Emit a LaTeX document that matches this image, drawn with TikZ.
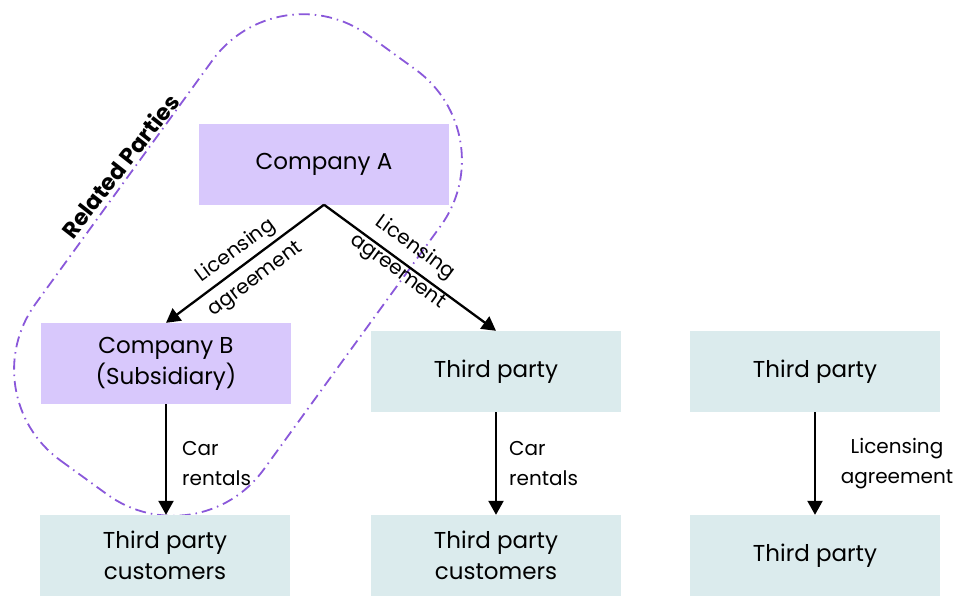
\documentclass[tikz,border=0pt]{standalone}
\usepackage{fontspec}
\setmainfont{Poppins}
\usepackage{xcolor}
\usetikzlibrary{arrows.meta,positioning}
\definecolor{lilac}{RGB}{216,200,252}
\definecolor{paleteal}{RGB}{219,235,237}
\definecolor{groupline}{RGB}{138,88,218}

\begin{document}
\begin{tikzpicture}[x=1pt,y=-1pt,
    box/.style={minimum width=250pt, minimum height=81pt, inner sep=0pt, align=center, font=\fontsize{23}{31}\selectfont},
    related/.style={box, fill=lilac},
    outside/.style={box, fill=paleteal},
    line/.style={-{Triangle[length=14pt,width=15pt]}, line width=2.3pt},
    lbl/.style={inner sep=0pt, font=\fontsize{20}{30}\selectfont},
    group/.style={groupline, line width=1.8pt, dash pattern=on 11pt off 5pt on 1.5pt off 5pt, rounded corners=112pt}
]
    \useasboundingbox (0,0) rectangle (958,595);

    % Related parties boundary
    \coordinate (G) at (238,265);
    \draw [group, rotate around={54:(G)}] (G) ++(-262.5,-141) rectangle ++(525,282);
    \node at (120,166) [rotate=52, font=\fontsize{22.5}{25}\selectfont\bfseries] (RP) {Related Parties};

    % Boxes
    \node at (324,164) [related] (A) {Company A};
    \node at (166,363.5) [related] (B) {Company B\\(Subsidiary)};
    \node at (496,371.5) [outside] (T1) {Third party};
    \node at (815,371.5) [outside] (T2) {Third party};
    \node at (165,555.5) [outside] (C1) {Third party\\customers};
    \node at (496,555.5) [outside] (C2) {Third party\\customers};
    \node at (815,555.5) [outside] (T3) {Third party};

    % Arrows
    \draw [line] (A.south) -- (B.north);
    \draw [line] (A.south) -- (T1.north);
    \draw [line] (B.south) -- (B.south |- C1.north);
    \draw [line] (T1) -- (C2);
    \draw [line] (T2) -- (T3);

    % Labels
    \node at (236,251) [lbl,rotate=36.7] (L1) {Licensing};
    \node at (256,280) [lbl,rotate=36.7] (L2) {agreement};
    \node at (415,248) [lbl,rotate=-36.2] (L3) {Licensing};
    \node at (397,272) [lbl,rotate=-36.2] (L4) {agreement};
    \node at (182,464) [lbl,anchor=west,align=left] (R1) {Car\\rentals};
    \node at (509,464) [lbl,anchor=west,align=left] (R2) {Car\\rentals};
    \node at (897,464) [lbl,align=center] (L5) {Licensing\\agreement};
\end{tikzpicture}
\end{document}
